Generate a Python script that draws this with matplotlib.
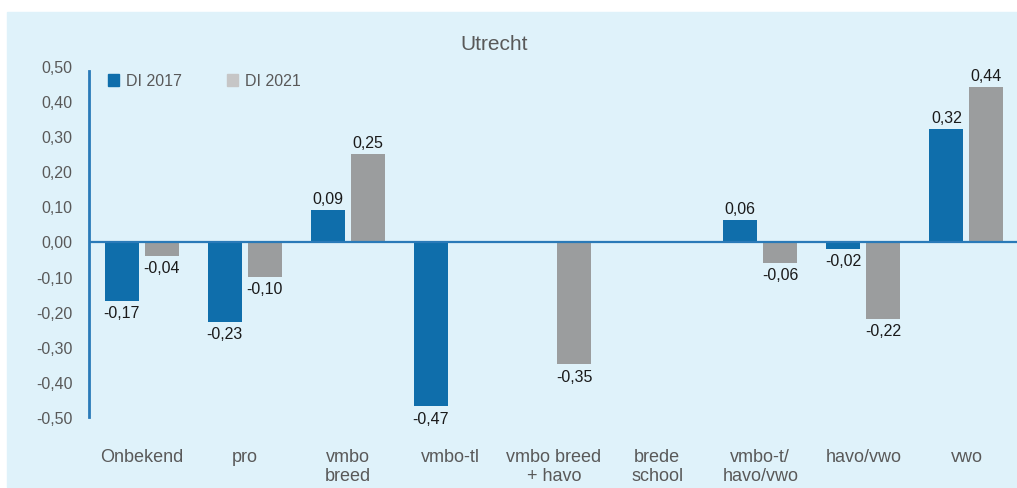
import matplotlib.pyplot as plt
import numpy as np
from matplotlib.patches import Patch, Rectangle

plt.rcParams['font.family'] = ['Liberation Sans', 'DejaVu Sans']

categories = ["Onbekend", "pro", "vmbo\nbreed", "vmbo-tl", "vmbo breed\n+ havo",
              "brede\nschool", "vmbo-t/\nhavo/vwo", "havo/vwo", "vwo"]
di_2017 = [-0.17, -0.23, 0.09, -0.47, np.nan, np.nan, 0.06, -0.02, 0.32]
di_2021 = [-0.04, -0.10, 0.25, np.nan, -0.35, np.nan, -0.06, -0.22, 0.44]
series_names = ["DI 2017", "DI 2021"]
yticks = np.round(np.arange(-0.5, 0.51, 0.1), 2)

BG = "#dff2fa"
BLUE = "#0f6eab"
GREY = "#9b9d9e"
GREY_LEGEND = "#c6c6c6"
AXIS = "#2a7ab8"
TEXT = "#595959"


def fmt(v):
    v = round(v, 2) + 0.0
    return ("%.2f" % v).replace(".", ",")


fig = plt.figure(figsize=(10.17, 4.89), dpi=100)
fig.patches.append(Rectangle((7 / 1017, 1 / 489), 1, 1 - 14 / 489,
                             transform=fig.transFigure, color=BG, zorder=-1))
ax = fig.add_axes([89 / 1017, 1 - 418 / 489, 1 - 89 / 1017, 351 / 489])
ax.set_facecolor("none")

x = np.arange(len(categories))
off, w = 0.194, 0.33
for vals, dx, col in [(di_2017, -off, BLUE), (di_2021, off, GREY)]:
    vals = np.array(vals, dtype=float)
    ok = ~np.isnan(vals)
    ax.bar(x[ok] + dx, vals[ok], width=w, color=col, zorder=2)
    for xi, v in zip(x[ok] + dx, vals[ok]):
        ax.annotate(fmt(v), (xi, v), xytext=(0, 3 if v > 0 else -3),
                    textcoords="offset points", ha="center",
                    va="bottom" if v > 0 else "top",
                    fontsize=11.5, color="#1a1a1a")

ax.axhline(0, color=AXIS, lw=1.6, zorder=3)
ax.set_xlim(-0.51, 8.49)
ax.set_ylim(-0.5, 0.5)
ax.set_yticks(yticks)
ax.set_yticklabels([fmt(v) for v in yticks], fontsize=11.5, color=TEXT)
ax.set_xticks(x)
ax.set_xticklabels(categories, fontsize=13, color=TEXT, linespacing=1.15)
ax.tick_params(axis="x", length=0, pad=22)
ax.tick_params(axis="y", length=0, pad=12)
for s in ["top", "right", "bottom"]:
    ax.spines[s].set_visible(False)
ax.spines["left"].set_color(AXIS)
ax.spines["left"].set_linewidth(2)
ax.spines["left"].set_bounds(-0.5, 0.485)

handles = [Patch(color=BLUE), Patch(color=GREY_LEGEND)]
ax.legend(handles, series_names, loc="upper left", bbox_to_anchor=(0.005, 1.02),
          ncol=2, frameon=False, fontsize=11.5, labelcolor=TEXT,
          handlelength=0.7, handleheight=0.8, handletextpad=0.4,
          columnspacing=2.85)

fig.text(494 / 1017, 1 - 44 / 489, "Utrecht", ha="center", va="center",
         fontsize=15, color=TEXT)

fig.savefig("out.png", dpi=100)
